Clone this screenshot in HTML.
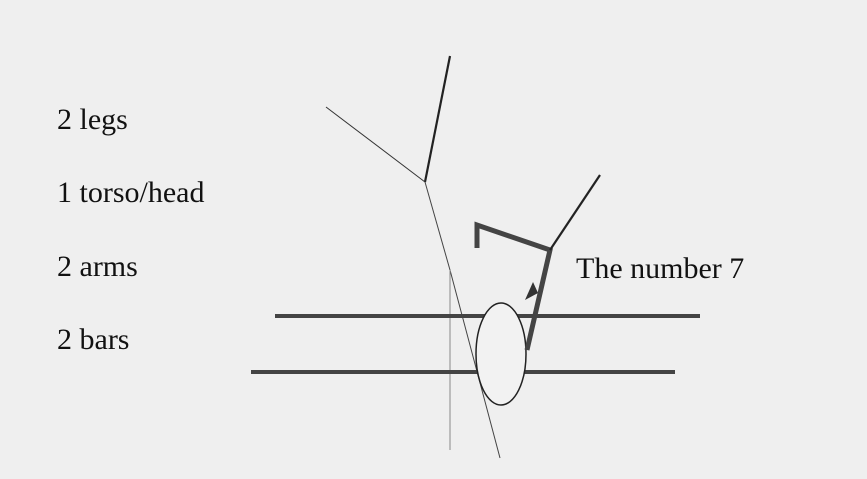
<!DOCTYPE html>
<html><head><meta charset="utf-8"><style>
html,body{margin:0;padding:0;background:#efefef;}
svg{display:block;}
text{font-family:"Liberation Serif",serif;font-size:30px;fill:#111;}
</style></head><body>
<svg width="867" height="479" viewBox="0 0 867 479" xmlns="http://www.w3.org/2000/svg">
<rect width="867" height="479" fill="#efefef"/>
<text x="57" y="129">2 legs</text>
<text x="57" y="202">1 torso/head</text>
<text x="57" y="276">2 arms</text>
<text x="57" y="349">2 bars</text>
<text x="576" y="278" style="font-size:30px">The number 7</text>
<line x1="450" y1="56" x2="425" y2="182" stroke="#222" stroke-width="2.2"/>
<line x1="326" y1="107" x2="425" y2="182" stroke="#333" stroke-width="1"/>
<polyline points="425,182 450,270 500,458" fill="none" stroke="#444" stroke-width="1"/>
<line x1="450" y1="270" x2="450" y2="450" stroke="#888" stroke-width="1"/>
<line x1="275" y1="316" x2="700" y2="316" stroke="#444" stroke-width="4"/>
<line x1="251" y1="372" x2="675" y2="372" stroke="#444" stroke-width="4"/>
<ellipse cx="501" cy="354" rx="25" ry="51" fill="#f2f2f2" stroke="#222" stroke-width="1.5"/>
<polyline points="477,248 477,225 550,250 527,350" fill="none" stroke="#444" stroke-width="5"/>
<polygon points="525,300 533,282 538,293" fill="#333"/>
<line x1="550" y1="250" x2="600" y2="175" stroke="#222" stroke-width="2.2"/>
</svg>
</body></html>
